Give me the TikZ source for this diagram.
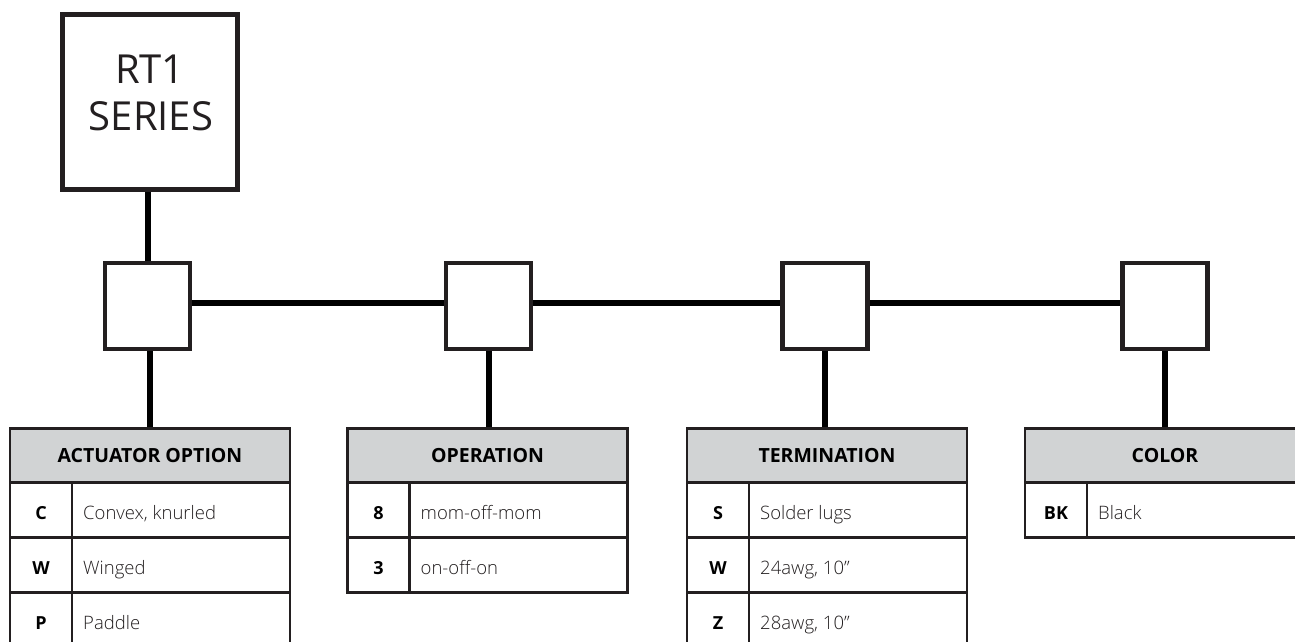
\documentclass[tikz,border=0pt]{standalone}
\usepackage{fontspec}
\setmainfont{Open Sans}
\newfontfamily\lightfont{Open Sans Light}
\definecolor{ink}{RGB}{35,31,32}
\definecolor{hdr}{RGB}{209,211,212}
\tikzset{
  bigbox/.style={draw=ink, line width=5pt, minimum width=175pt, minimum height=175pt, inner sep=0pt},
  bigtxt/.style={anchor=base, inner sep=0pt, text=ink, font=\fontsize{40}{46}\selectfont},
  selbox/.style={draw=ink, line width=4.5pt, minimum width=85pt, minimum height=86pt, inner sep=0pt, fill=white},
  wire/.style={line width=6pt, draw=black},
  hdrcell/.style={draw=ink, line width=2.5pt, fill=hdr, minimum width=280pt, minimum height=54pt, inner sep=0pt, text=black, font=\bfseries\fontsize{19.5}{23}\selectfont},
  codecell/.style={draw=ink, line width=2.5pt, minimum width=62pt, minimum height=55pt, inner sep=0pt},
  desccell/.style={draw=ink, line width=2.5pt, minimum width=218pt, minimum height=55pt, inner sep=0pt},
  codetxt/.style={anchor=base, inner sep=0pt, text=black, font=\bfseries\fontsize{18}{21}\selectfont},
  desctxt/.style={anchor=base west, inner sep=0pt, text=ink, font=\lightfont\fontsize{18.5}{22}\selectfont}
}
\newcommand\thead[3]{\node[hdrcell] (#1) at (#2+140,455.5) {#3};}
\newcommand\trow[5]{%
  \node[codecell] (#1c) at (#2+31,#3+27.5) {};
  \node[desccell] (#1d) at (#2+171,#3+27.5) {};
  \node[codetxt] (#1ct) at (#2+31,#3+36.5) {#4};
  \node[desctxt] (#1dt) at (#2+73,#3+36.5) {#5};
}
\begin{document}
\begin{tikzpicture}[x=1pt,y=-1pt]
\useasboundingbox (0,0) rectangle (1295,641);
\clip (0,0) rectangle (1295,641);
\fill[white] (0,0) rectangle (1295,641);

% top box
\node[bigbox] (big) at (150,102) {};
\node[bigtxt] (t1) at (150,83) {RT1};
\node[bigtxt] (t2) at (151,130) {SERIES};

% selector boxes
\node[selbox] (b1) at (147.5,306) {};
\node[selbox] (b2) at (488.5,306) {};
\node[selbox] (b3) at (825,306) {};
\node[selbox] (b4) at (1165,306) {};

% tables
\thead{h1}{10}{ACTUATOR OPTION}
\trow{a1}{10}{482.5}{C}{Convex, knurled}
\trow{a2}{10}{537.5}{W}{Winged}
\trow{a3}{10}{592.5}{P}{Paddle}

\thead{h2}{347.5}{OPERATION}
\trow{o1}{347.5}{482.5}{8}{mom-off-mom}
\trow{o2}{347.5}{537.5}{3}{on-off-on}

\thead{h3}{687}{TERMINATION}
\trow{e1}{687}{482.5}{S}{Solder lugs}
\trow{e2}{687}{537.5}{W}{24awg, 10”}
\trow{e3}{687}{592.5}{Z}{28awg, 10”}

\thead{h4}{1025}{COLOR}
\trow{c1}{1025}{482.5}{BK}{Black}

% connectors
\draw[wire] (b1.north |- big.south) -- (b1.north);
\draw[wire] ([yshift=3pt]b1.east) -- ([yshift=3pt]b2.west);
\draw[wire] ([yshift=3pt]b2.east) -- ([yshift=3pt]b3.west);
\draw[wire] ([yshift=3pt]b3.east) -- ([yshift=3pt]b4.west);
\draw[wire] ([xshift=2pt]b1.south) -- ([xshift=2pt]b1.south |- h1.north);
\draw[wire] (b2.south) -- (b2.south |- h2.north);
\draw[wire] (b3.south) -- (b3.south |- h3.north);
\draw[wire] (b4.south) -- (b4.south |- h4.north);
\end{tikzpicture}
\end{document}
